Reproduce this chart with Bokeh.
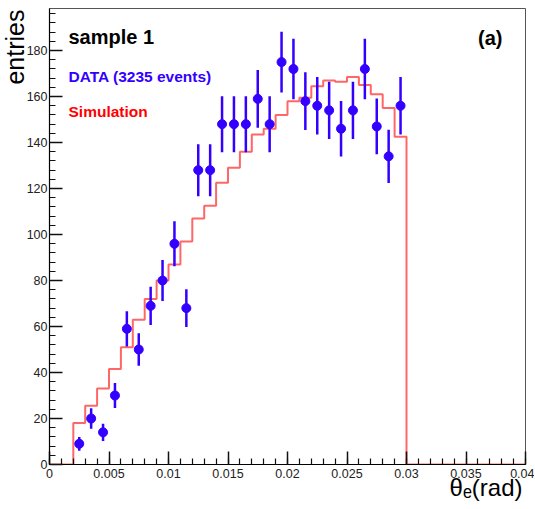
import numpy as np
from bokeh.plotting import figure
from bokeh.models import Label, Title, SingleIntervalTicker, CustomJSTickFormatter, Range1d
from bokeh.embed import file_html
from bokeh.resources import INLINE

# ---- data ----
theta_centers = [0.0025, 0.0035, 0.0045, 0.0055, 0.0065, 0.0075, 0.0085, 0.0095,
                 0.0105, 0.0115, 0.0125, 0.0135, 0.0145, 0.0155, 0.0165, 0.0175,
                 0.0185, 0.0195, 0.0205, 0.0215, 0.0225, 0.0235, 0.0245, 0.0255,
                 0.0265, 0.0275, 0.0285, 0.0295]
data_counts = [9, 20, 14, 30, 59, 50, 69, 80, 96, 68, 128, 128, 148, 148, 148, 159,
               148, 175, 172, 158, 156, 154, 146, 154, 172, 147, 134, 156]
data_errors = np.sqrt(np.array(data_counts, dtype=float))  # Poisson errors

sim_edges = [round(i * 0.001, 3) for i in range(41)]
sim_counts = [0, 0, 18, 25.5, 33, 41.5, 51, 63, 72, 80, 87, 97, 107, 112.5, 122.5,
              129, 136, 143.5, 146, 152, 158, 159.5, 164.5, 167, 166.5, 168.5, 165,
              161, 155, 142.5, 0, 0, 0, 0, 0, 0, 0, 0, 0, 0]

BLUE = "#3300ff"
RED = "#ff0000"
FONT = "Liberation Sans"

p = figure(width=534, height=508, output_backend="svg", toolbar_location=None,
           x_range=Range1d(0, 0.04), y_range=Range1d(0, 198.3),
           min_border_left=49, min_border_right=9, min_border_top=8,
           min_border_bottom=44)
p.background_fill_color = "white"
p.border_fill_color = "white"
p.outline_line_color = "#555555"
p.outline_line_width = 1
p.grid.visible = False

# simulation histogram
p.step(sim_edges, sim_counts + [sim_counts[-1]], mode="after",
       line_color=RED, line_alpha=0.6, line_width=2)

# data with error bars
lo = np.array(data_counts) - data_errors
hi = np.array(data_counts) + data_errors
p.segment(theta_centers, lo, theta_centers, hi, line_color=BLUE, line_width=2.5)
p.scatter(theta_centers, data_counts, size=9, fill_color=BLUE, line_color=BLUE)

# axes
for ax in (p.xaxis[0], p.yaxis[0]):
    ax.axis_line_color = "black"
    ax.axis_line_width = 1.2
    ax.major_tick_in = 13
    ax.major_tick_out = 0
    ax.minor_tick_in = 6
    ax.minor_tick_out = 0
    ax.major_tick_line_color = "#111111"
    ax.minor_tick_line_color = "#111111"
    ax.major_tick_line_width = 1.5
    ax.minor_tick_line_width = 1.2
    ax.major_label_text_font = FONT
    ax.major_label_text_font_size = "12.5px"
    ax.major_label_text_color = "#222222"

p.xaxis.ticker = SingleIntervalTicker(interval=0.005, num_minor_ticks=5)
p.yaxis.ticker = SingleIntervalTicker(interval=20, num_minor_ticks=5)
p.xaxis.formatter = CustomJSTickFormatter(
    code="return (Math.round(tick*1000)/1000).toString();")
p.xaxis.major_label_standoff = 4
p.yaxis.major_label_standoff = 2

# axis titles (ROOT style: at the end of each axis)
p.add_layout(Title(text="entries", align="right", vertical_align="bottom",
                   text_font=FONT, text_font_size="25px", text_font_style="normal",
                   text_color="black", offset=1, standoff=-10), "left")
p.add_layout(Title(text="θₑ(rad)", align="right", vertical_align="top",
                   text_font=FONT, text_font_size="24px", text_font_style="normal",
                   text_color="black", offset=3, standoff=-14), "below")

# texts inside the frame
def lab(text, x, y, size, color="black", bold=False, align="left"):
    p.add_layout(Label(x=x, y=y, x_units="screen", y_units="screen", text=text,
                       text_font=FONT, text_font_size=size, text_color=color,
                       text_font_style="bold" if bold else "normal",
                       text_align=align, text_baseline="alphabetic"))

lab("sample 1", 19, 428, "20px", bold=True)
lab("(a)", 453, 427, "20px", bold=True, align="right")
lab("DATA (3235 events)", 19, 388, "15.5px", color=BLUE, bold=True)
lab("Simulation", 19, 353, "15.5px", color=RED, bold=True)

open("out.html", "w").write(file_html(p, INLINE))
